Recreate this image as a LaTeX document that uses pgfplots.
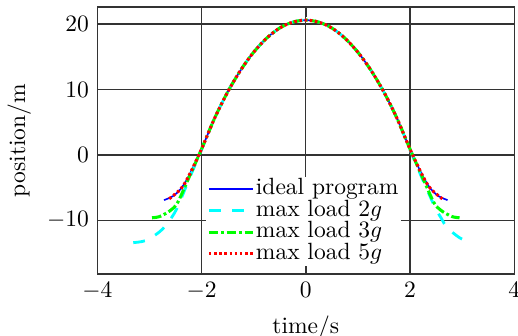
\documentclass[border=0pt]{standalone}
\usepackage{pgfplots}
\pgfplotsset{compat=1.18}
\usetikzlibrary{calc}
\definecolor{cblue}{RGB}{0,0,255}
\definecolor{ccyan}{RGB}{0,255,255}
\definecolor{cgreen}{RGB}{0,255,0}
\definecolor{cred}{RGB}{255,0,0}
\begin{document}
\begin{tikzpicture}
\begin{axis}[
  scale only axis,
  width=177.4pt, height=113.6pt,
  xmin=-4, xmax=4, ymin=-18.2, ymax=22.6,
  xtick={-4,-2,0,2,4}, ytick={-10,0,10,20},
  grid=major,
  major grid style={black!80, line width=0.5pt},
  axis line style={black!80, line width=0.6pt},
  tick style={black!80},
  tick align=inside,
  xlabel={time/s}, ylabel={position/m},
  legend style={at={(axis cs:-1.92,-3.3)}, anchor=north west, draw=none, fill=white,
    inner sep=0.5pt, row sep=0pt,
    nodes={inner sep=0.6pt, text height=6.3pt, text depth=1.7pt}},
  legend cell align=left,
  legend image code/.code={\draw[#1] (0cm,0cm) -- (0.66cm,0cm);},
]
\addplot[cblue, line width=0.7pt, smooth] coordinates {
(-2.72,-6.9) (-2.55,-6.3) (-2.4,-5.2) (-2.25,-3.3) (-2.0,0.9) (-1.75,5.6) (-1.5,9.6) (-1.25,12.95) (-1.0,15.7) (-0.75,17.85) (-0.5,19.4) (-0.25,20.3) (0,20.6)
(0.25,20.3) (0.5,19.4) (0.75,17.85) (1.0,15.7) (1.25,12.95) (1.5,9.6) (1.75,5.6) (2.0,0.9) (2.25,-3.3) (2.4,-5.2) (2.55,-6.3) (2.72,-6.9)};
\addlegendentry{ideal program}
\addplot[ccyan, line width=1.2pt, dash pattern=on 5pt off 5pt, smooth] coordinates {
(-3.31,-13.4) (-3.08,-13.1) (-2.83,-11.9) (-2.67,-10.6) (-2.48,-8.3) (-2.25,-3.9) (-2.0,0.8) (-1.75,5.6) (-1.5,9.6) (-1.25,12.95) (-1.0,15.7) (-0.75,17.85) (-0.5,19.4) (-0.25,20.3) (0,20.6)
(0.25,20.3) (0.5,19.4) (0.75,17.85) (1.0,15.7) (1.25,12.95) (1.5,9.6) (1.75,5.6) (2.0,0.8) (2.25,-3.9) (2.48,-8.0) (2.61,-9.8) (2.71,-11.1) (2.96,-12.7) (3.15,-13.3)};
\addlegendentry{max load $2g$}
\addplot[cgreen, line width=1.3pt, dash pattern=on 4pt off 1.2pt on 1.2pt off 1.2pt, smooth] coordinates {
(-2.95,-9.6) (-2.8,-9.4) (-2.6,-8.5) (-2.46,-7.3) (-2.25,-3.6) (-2.0,0.9) (-1.75,5.6) (-1.5,9.6) (-1.25,12.95) (-1.0,15.7) (-0.75,17.85) (-0.5,19.4) (-0.25,20.3) (0,20.6)
(0.25,20.3) (0.5,19.4) (0.75,17.85) (1.0,15.7) (1.25,12.95) (1.5,9.6) (1.75,5.6) (2.0,0.9) (2.25,-3.6) (2.46,-7.3) (2.6,-8.5) (2.8,-9.4) (2.95,-9.6)};
\addlegendentry{max load $3g$}
\addplot[cred, line width=1.3pt, dash pattern=on 1.1pt off 1.1pt, smooth] coordinates {
(-2.62,-6.7) (-2.4,-5.2) (-2.25,-3.3) (-2.0,0.9) (-1.75,5.6) (-1.5,9.6) (-1.25,12.95) (-1.0,15.7) (-0.75,17.85) (-0.5,19.4) (-0.25,20.3) (0,20.6)
(0.25,20.3) (0.5,19.4) (0.75,17.85) (1.0,15.7) (1.25,12.95) (1.5,9.6) (1.75,5.6) (2.0,0.9) (2.25,-3.3) (2.4,-5.2) (2.62,-6.7)};
\addlegendentry{max load $5g$}
\end{axis}
\pgfresetboundingbox
\path ($(current axis.south west)+(-41.4pt,-26pt)$) rectangle ($(current axis.north east)+(1.6pt,3pt)$);
\end{tikzpicture}
\end{document}
